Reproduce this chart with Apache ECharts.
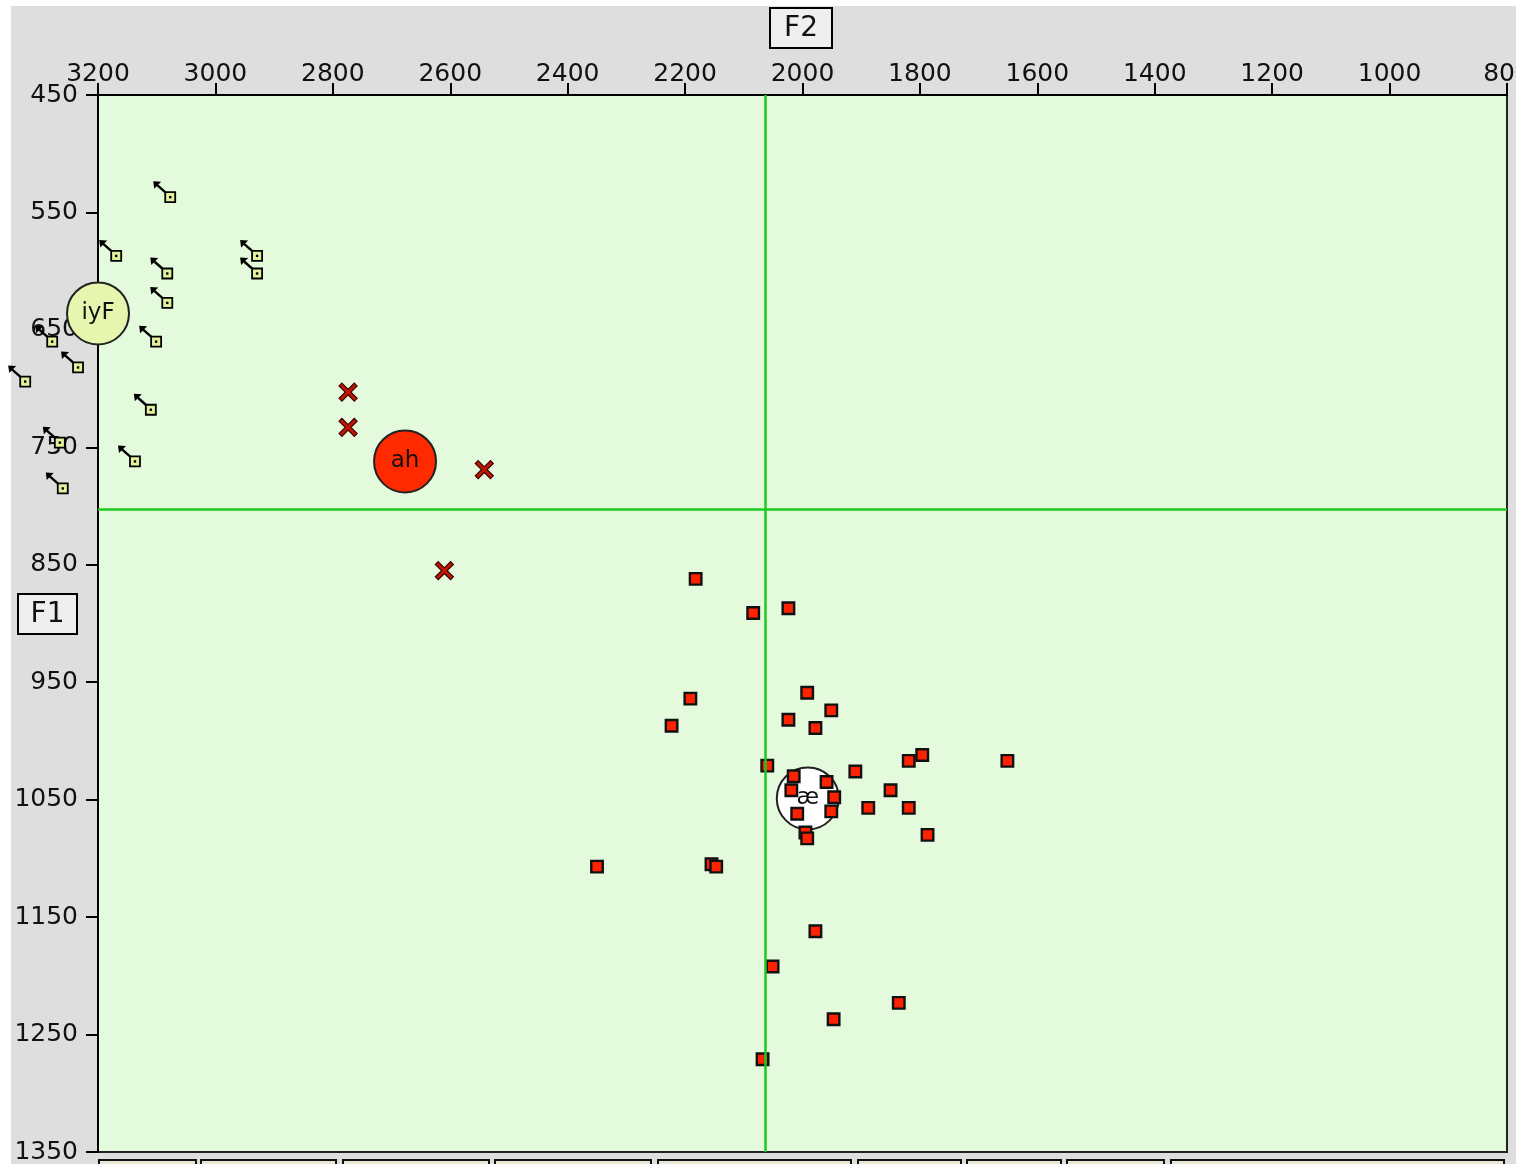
<!DOCTYPE html>
<html><head><meta charset="utf-8">
<script src="https://cdn.jsdelivr.net/npm/echarts@6/dist/echarts.min.js"></script>
<style>
html,body{margin:0;padding:0;background:#fff;overflow:hidden;}
#bg{position:absolute;left:11px;top:6px;width:1505px;height:1158px;background:#dedede;}
#chart{position:absolute;left:0;top:0;width:1516px;height:1164px;}
</style></head><body>
<div id="bg"></div><div id="chart"></div>
<script>
// Axis ranges (F2 horizontal, reversed; F1 vertical, reversed)
const f2Min = 800, f2Max = 3200, f2Step = 200;
const f1Min = 450, f1Max = 1350, f1Step = 100;

// Reference (grand mean) lines
const refF2 = 2064;
const refF1 = 803;

// Individual tokens [F2, F1]
const iyPoints = [
  [3077,537],[3169,587],[3082,602],[2929,587],[2929,602],[3082,627],[3101,660],
  [3278,660],[3234,682],[3324,694],[3110,718],[3265,746],[3137,762],[3260,785]
];
const ahPoints = [[2774,703],[2774,733],[2542,769],[2610,855]];
const aePoints = [
  [2182,862],[2084,891],[2024,887],[2191,964],[2223,987],[1992,959],[2024,982],
  [1978,989],[1951,974],[2060,1021],[2015,1030],[2019,1042],[1959,1035],[1946,1048],
  [1951,1060],[2009,1062],[1995,1078],[1992,1083],[1910,1026],[1850,1042],[1819,1017],
  [1796,1012],[1651,1017],[1888,1057],[1819,1057],[1787,1080],[2350,1107],[2155,1105],
  [2147,1107],[1978,1162],[2051,1192],[1836,1223],[1947,1237],[2068,1271]
];

// Category means
const meanNames = ['iyF','ah','æ'];
const meanValues = [[3200,636],[2677,762],[1991,1049]];
const meanColors = ['#e6f6ae','#ff2a00','#ffffff'];

const FONT = 'DejaVu Sans';
const chart = echarts.init(document.getElementById('chart'));

const bottomButtons = [[98,195],[200,335],[342,488],[494,650],[657,850],[857,960],[966,1060],[1066,1163],[1170,1503]];

chart.setOption({
  animation: false,
  backgroundColor: 'transparent',
  grid: {left: 98, top: 95, right: 9, bottom: 12, show: true, containLabel: false,
         outerBoundsMode: 'none',
         backgroundColor: '#e3fadc', borderColor: '#222', borderWidth: 2},
  xAxis: {
    type: 'value', position: 'top', inverse: true,
    min: f2Min, max: f2Max, interval: f2Step,
    axisLine: {show: true, onZero: false, lineStyle: {color: '#000', width: 2}},
    axisTick: {show: true, length: 12, lineStyle: {color: '#000', width: 2}},
    axisLabel: {margin: 8, fontSize: 25, color: '#111', fontFamily: FONT,
                hideOverlap: false, showMinLabel: true, showMaxLabel: true,
                formatter: v => String(v)},
    splitLine: {show: false}
  },
  yAxis: {
    type: 'value', inverse: true,
    min: f1Min, max: f1Max, interval: f1Step,
    axisLine: {show: true, onZero: false, lineStyle: {color: '#000', width: 2}},
    axisTick: {show: true, length: 12, lineStyle: {color: '#000', width: 2}},
    axisLabel: {margin: 20, fontSize: 25, color: '#111', fontFamily: FONT,
                showMinLabel: true, showMaxLabel: true,
                formatter: v => String(v)},
    splitLine: {show: false}
  },
  graphic: [
    {type: 'group', left: 769, top: 7, children: [
      {type: 'rect', shape: {x: 0, y: 0, width: 62, height: 40}, style: {fill: '#efefef', stroke: '#000', lineWidth: 2}},
      {type: 'text', x: 31, y: 21, style: {text: 'F2', font: '28px "DejaVu Sans"', fill: '#111', align: 'center', verticalAlign: 'middle'}}
    ]},
    {type: 'group', left: 17, top: 593, children: [
      {type: 'rect', shape: {x: 0, y: 0, width: 59, height: 40}, style: {fill: '#efefef', stroke: '#000', lineWidth: 2}},
      {type: 'text', x: 29.5, y: 21, style: {text: 'F1', font: '28px "DejaVu Sans"', fill: '#111', align: 'center', verticalAlign: 'middle'}}
    ]}
  ].concat(bottomButtons.map(b => ({
    type: 'rect', left: b[0], top: 1159, silent: true,
    shape: {x: 0, y: 0, width: b[1] - b[0], height: 20},
    style: {fill: '#e9e6d6', stroke: '#111', lineWidth: 2}
  }))),
  series: [
    {
      name: 'means', type: 'scatter', clip: false, z: 2,
      symbol: 'circle', symbolSize: 62,
      data: meanValues.map((v, i) => ({name: meanNames[i], value: v,
        itemStyle: {color: meanColors[i], borderColor: '#222', borderWidth: 2, opacity: 1}})),
      label: {show: true, position: 'inside', formatter: '{b}', fontSize: 23, color: '#111', fontFamily: FONT},
      markLine: {
        silent: true, symbol: 'none', animation: false,
        lineStyle: {color: '#1fc81f', width: 2.5, type: 'solid'},
        label: {show: false},
        data: [{xAxis: refF2}, {yAxis: refF1}]
      }
    },
    {
      name: 'iy', type: 'custom', clip: false, z: 3,
      data: iyPoints,
      renderItem: function (params, api) {
        const p = api.coord([api.value(0), api.value(1)]);
        const x = p[0], y = p[1];
        return {type: 'group', children: [
          {type: 'line', shape: {x1: x - 5, y1: y - 5, x2: x - 13, y2: y - 12}, style: {stroke: '#000', lineWidth: 2.4}},
          {type: 'polygon', shape: {points: [[x - 17, y - 16], [x - 9, y - 15.5], [x - 16, y - 8.5]]}, style: {fill: '#000'}},
          {type: 'rect', shape: {x: x - 5, y: y - 5, width: 10, height: 10}, style: {fill: '#e2f29c', stroke: '#000', lineWidth: 1.8}},
          {type: 'rect', shape: {x: x - 1.2, y: y - 1.2, width: 2.4, height: 2.4}, style: {fill: '#000'}}
        ]};
      }
    },
    {
      name: 'ah', type: 'scatter', clip: false, z: 3,
      symbol: 'path://M2.5,0 L8,5.5 L13.5,0 L16,2.5 L10.5,8 L16,13.5 L13.5,16 L8,10.5 L2.5,16 L0,13.5 L5.5,8 L0,2.5 Z',
      symbolSize: 18,
      itemStyle: {color: '#c01800', borderColor: '#3a0000', borderWidth: 1.2, opacity: 1},
      data: ahPoints
    },
    {
      name: 'ae', type: 'scatter', clip: false, z: 3,
      symbol: 'rect', symbolSize: 11.5,
      itemStyle: {color: '#ff2200', borderColor: '#111', borderWidth: 2.4, opacity: 1},
      data: aePoints
    }
  ]
});
</script>
</body></html>
